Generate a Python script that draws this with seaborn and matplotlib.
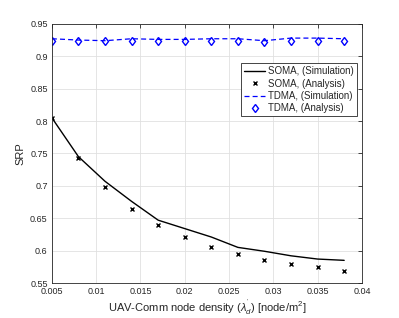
"""SRP versus UAV-Comm node density: SOMA vs TDMA."""

import matplotlib
matplotlib.use('Agg')
import matplotlib.pyplot as plt
import matplotlib.ticker as mticker
import seaborn as sns

density = [0.005, 0.008, 0.011, 0.014, 0.017, 0.020, 0.023, 0.026, 0.029, 0.032, 0.035, 0.038]
soma_sim = [0.805, 0.745, 0.707, 0.676, 0.647, 0.634, 0.621, 0.605, 0.599, 0.592, 0.587, 0.585]
soma_ana = [0.805, 0.743, 0.698, 0.665, 0.640, 0.621, 0.606, 0.595, 0.586, 0.579, 0.574, 0.569]
tdma_sim = [0.927, 0.925, 0.924, 0.927, 0.926, 0.926, 0.927, 0.927, 0.924, 0.928, 0.928, 0.927]
tdma_ana = [0.924, 0.923, 0.923, 0.923, 0.923, 0.923, 0.924, 0.924, 0.922, 0.924, 0.923, 0.923]

sns.set_style('white')
plt.rcParams['font.family'] = ['Liberation Sans', 'DejaVu Sans']
plt.rcParams['mathtext.fontset'] = 'custom'
plt.rcParams['mathtext.rm'] = 'Liberation Sans'
plt.rcParams['mathtext.it'] = 'Liberation Sans:italic'

edge = (0.15, 0.15, 0.15)
fig = plt.figure(figsize=(3.99, 3.18), dpi=100)
ax = fig.add_axes([0.13, 0.11, 0.777, 0.815])

sns.lineplot(x=density, y=soma_sim, ax=ax, color='black', linewidth=1.0,
             label='SOMA, (Simulation)')
ax.plot(density, soma_ana, linestyle='none', marker='x', color='black',
        markersize=3.5, markeredgewidth=1.0, label='SOMA, (Analysis)')
sns.lineplot(x=density, y=tdma_sim, ax=ax, color='blue', linewidth=0.9,
             linestyle=(0, (4, 2.5)), label='TDMA, (Simulation)')
ax.plot(density, tdma_ana, linestyle='none', marker='d', color='blue',
        markerfacecolor='none', markersize=4.5, markeredgewidth=1.0,
        label='TDMA, (Analysis)')

ax.set_xlim(0.005, 0.04)
ax.set_ylim(0.55, 0.95)
ax.xaxis.set_major_locator(mticker.MultipleLocator(0.005))
ax.yaxis.set_major_locator(mticker.MultipleLocator(0.05))
fmt = mticker.FuncFormatter(lambda v, p: f'{v:g}')
ax.xaxis.set_major_formatter(fmt)
ax.yaxis.set_major_formatter(fmt)

ax.grid(True, color=(0.88, 0.88, 0.88), linewidth=0.6)
ax.set_axisbelow(True)
for s in ax.spines.values():
    s.set_color(edge)
    s.set_linewidth(0.6)
ax.tick_params(direction='in', length=3, width=0.6, colors=edge,
               labelsize=6.5, top=True, right=True, pad=3)

ax.set_xlabel(r"UAV-Comm node density ($\lambda^{'}_{d}$) [node/m$^2$]",
              fontsize=8, color=edge, labelpad=2)
ax.set_ylabel('SRP', fontsize=8, color=edge, labelpad=3)

leg = ax.legend(loc='upper right', bbox_to_anchor=(0.984, 0.848), fontsize=7,
                frameon=True, fancybox=False, framealpha=1, edgecolor=edge,
                handlelength=2.2, borderpad=0.3, labelspacing=0.25,
                handletextpad=0.3, borderaxespad=0)
leg.get_frame().set_linewidth(0.6)

plt.savefig('out.png', dpi=100)
